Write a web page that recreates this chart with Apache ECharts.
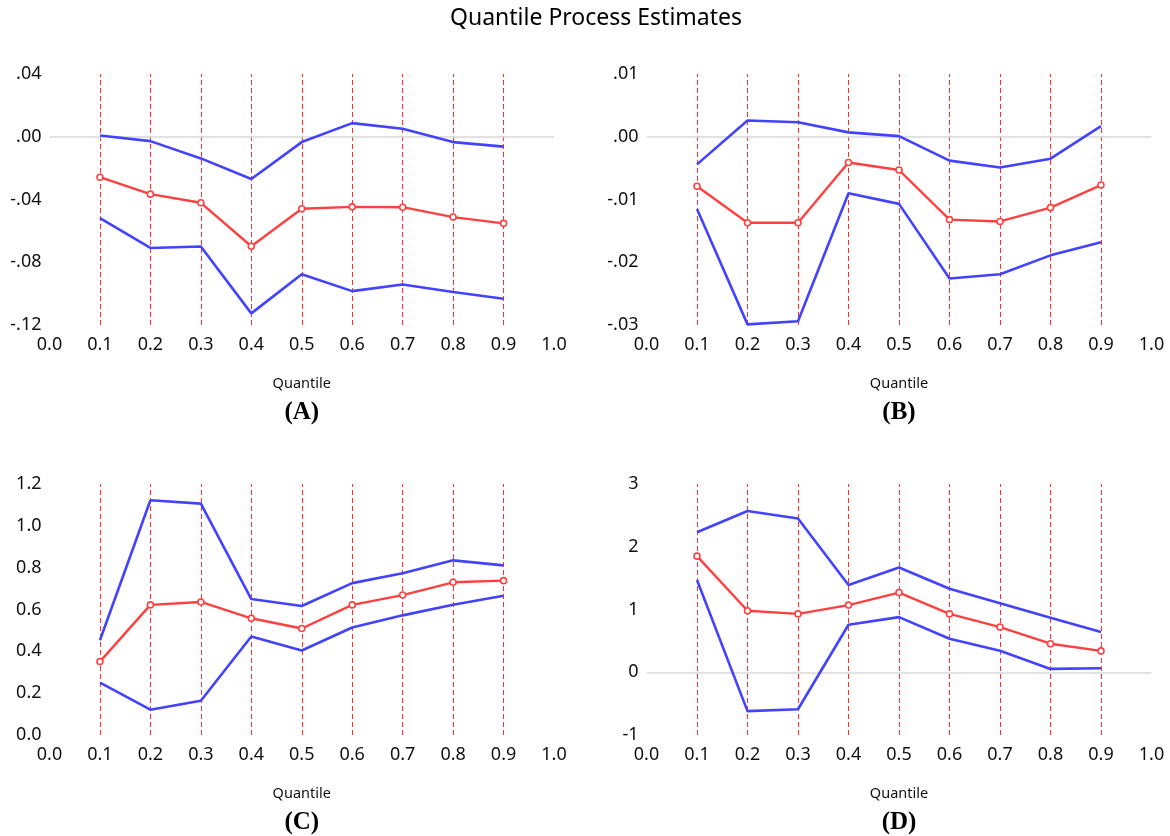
<!DOCTYPE html>
<html>
<head>
<meta charset="utf-8">
<script src="https://cdn.jsdelivr.net/npm/echarts@6/dist/echarts.min.js"></script>
<style>
  html, body { margin: 0; padding: 0; background: #ffffff; }
  #chart { width: 1170px; height: 836px; }
</style>
</head>
<body>
<div id="chart"></div>
<script>
// Quantile levels at which the process is estimated
const quantiles = [0.1, 0.2, 0.3, 0.4, 0.5, 0.6, 0.7, 0.8, 0.9];

// Panel (A)
const aUpper = [0.0008, -0.0028, -0.0138, -0.0269, -0.0034, 0.0087, 0.0051, -0.0034, -0.0063];
const aEst   = [-0.0258, -0.0366, -0.0421, -0.0698, -0.0459, -0.0447, -0.0449, -0.0512, -0.0552];
const aLower = [-0.0519, -0.0709, -0.0700, -0.1126, -0.0876, -0.0984, -0.0942, -0.0990, -0.1033];

// Panel (B)
const bUpper = [-0.0044, 0.0026, 0.0023, 0.0007, 0.0001, -0.0038, -0.0049, -0.0035, 0.0017];
const bEst   = [-0.0079, -0.0137, -0.0137, -0.0041, -0.0053, -0.0132, -0.0135, -0.0113, -0.0077];
const bLower = [-0.0115, -0.0299, -0.0294, -0.0090, -0.0107, -0.0226, -0.0219, -0.0189, -0.0168];

// Panel (C)
const cUpper = [0.453, 1.122, 1.106, 0.650, 0.617, 0.726, 0.773, 0.835, 0.811];
const cEst   = [0.351, 0.622, 0.636, 0.558, 0.509, 0.622, 0.669, 0.730, 0.738];
const cLower = [0.250, 0.121, 0.164, 0.471, 0.404, 0.514, 0.572, 0.623, 0.666];

// Panel (D)
const dUpper = [2.23, 2.57, 2.45, 1.39, 1.67, 1.33, 1.10, 0.87, 0.64];
const dEst   = [1.85, 0.98, 0.93, 1.07, 1.27, 0.93, 0.72, 0.455, 0.34];
const dLower = [1.47, -0.62, -0.59, 0.757, 0.878, 0.534, 0.344, 0.053, 0.063];

// Axis ranges per panel
const yRanges = [
  { min: -0.12, max: 0.04, interval: 0.04, digits: 2, dropZero: true },
  { min: -0.03, max: 0.01, interval: 0.01, digits: 2, dropZero: true },
  { min: 0, max: 1.2, interval: 0.2, digits: 1, dropZero: false },
  { min: -1, max: 3, interval: 1, digits: 0, dropZero: false }
];
const panelLetters = ['(A)', '(B)', '(C)', '(D)'];
const xAxisTitle = 'Quantile';
const chartTitle = 'Quantile Process Estimates';

const panels = [
  [aUpper, aEst, aLower],
  [bUpper, bEst, bLower],
  [cUpper, cEst, cLower],
  [dUpper, dEst, dLower]
];

const FONT = '"Noto Sans", "Open Sans", sans-serif';
const BLUE = '#4242ff';
const RED = '#ff4040';
const DASH_RED = '#ff3030';

const gridBoxes = [
  { left: 49.5, top: 74, width: 504.5, height: 251 },
  { left: 646.5, top: 74, width: 505, height: 251 },
  { left: 49.5, top: 484, width: 504.5, height: 251 },
  { left: 646.5, top: 484, width: 505, height: 251 }
];

function yFormatter(r) {
  return function (v) {
    if (Math.abs(v) < 1e-9) v = 0;
    let s = v.toFixed(r.digits);
    if (r.dropZero) s = s.replace('0.', '.');
    return s;
  };
}

const pairs = arr => arr.map((v, i) => [quantiles[i], v]);

const grid = [], xAxis = [], yAxis = [], series = [], graphic = [];

gridBoxes.forEach((g, i) => {
  grid.push({ left: g.left, top: g.top, width: g.width, height: g.height, containLabel: false });
  xAxis.push({
    type: 'value', gridIndex: i, min: 0, max: 1, interval: 0.1,
    axisLine: { show: false }, axisTick: { show: false }, splitLine: { show: false },
    axisLabel: { color: '#111', fontSize: 18, fontFamily: FONT, margin: 11,
      formatter: v => v.toFixed(1) }
  });
  const r = yRanges[i];
  yAxis.push({
    type: 'value', gridIndex: i, min: r.min, max: r.max, interval: r.interval,
    axisLine: { show: false }, axisTick: { show: false }, splitLine: { show: false },
    axisLabel: { color: '#111', fontSize: 18, fontFamily: FONT, margin: 8,
      formatter: yFormatter(r) }
  });

  const [up, est, lo] = panels[i];

  // Vertical dashed guides at each quantile, plus the zero reference line
  const guides = quantiles.map(q => ({
    xAxis: q,
    lineStyle: { color: DASH_RED, type: [5, 3], width: 1 }
  }));
  if (r.min < 0) {
    guides.push({ yAxis: 0, lineStyle: { color: '#d8d8d8', type: 'solid', width: 1.5 } });
  }

  series.push({
    type: 'line', xAxisIndex: i, yAxisIndex: i, data: pairs(up),
    symbol: 'none', lineStyle: { color: BLUE, width: 2.6 }, z: 3, silent: true,
    markLine: { symbol: 'none', silent: true, label: { show: false }, data: guides, z: 1 }
  });
  series.push({
    type: 'line', xAxisIndex: i, yAxisIndex: i, data: pairs(lo),
    symbol: 'none', lineStyle: { color: BLUE, width: 2.6 }, z: 3, silent: true
  });
  series.push({
    type: 'line', xAxisIndex: i, yAxisIndex: i, data: pairs(est),
    symbol: 'circle', symbolSize: 6, showAllSymbol: true,
    itemStyle: { color: '#ffffff', borderColor: RED, borderWidth: 1.6 },
    lineStyle: { color: RED, width: 2.4 }, z: 4, silent: true
  });

  const cx = g.left + g.width / 2;
  const bottom = g.top + g.height;
  graphic.push({
    type: 'text', x: cx, y: bottom + 59,
    style: { text: xAxisTitle, fill: '#111', font: '14.5px ' + FONT, textAlign: 'center', textVerticalAlign: 'middle' }
  });
  graphic.push({
    type: 'text', x: cx, y: bottom + 88,
    style: { text: panelLetters[i], fill: '#000', font: 'bold 25px "Liberation Serif", "DejaVu Serif", serif', textAlign: 'center', textVerticalAlign: 'middle' }
  });
});

graphic.push({
  type: 'text', x: 596, y: 18,
  style: { text: chartTitle, fill: '#000', font: '23px ' + FONT, textAlign: 'center', textVerticalAlign: 'middle' }
});

const chart = echarts.init(document.getElementById('chart'), null, { renderer: 'canvas' });
chart.setOption({
  backgroundColor: '#ffffff',
  animation: false,
  grid, xAxis, yAxis, series, graphic
});
</script>
</body>
</html>
